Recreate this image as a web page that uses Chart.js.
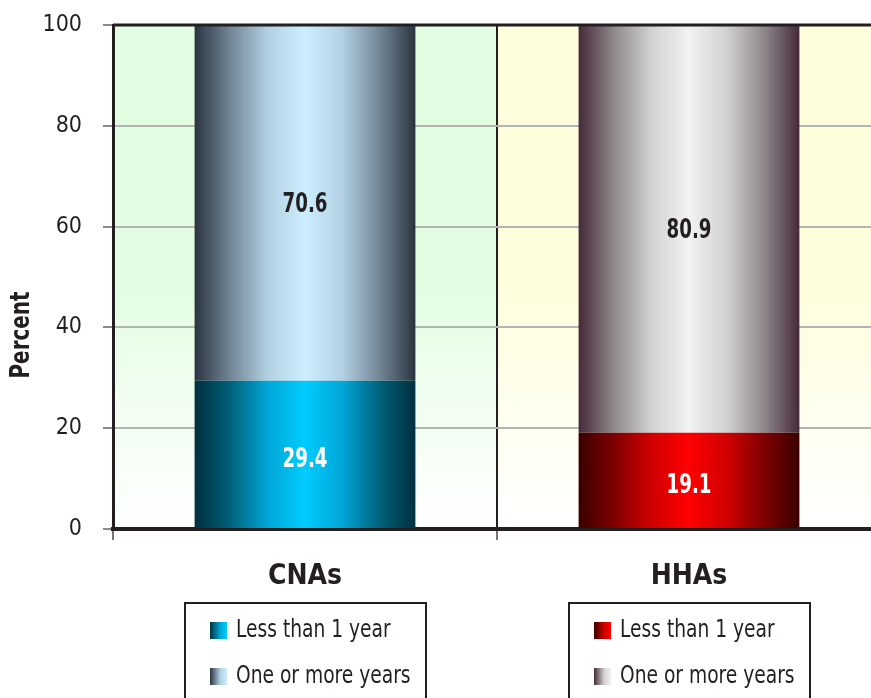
<!DOCTYPE html>
<html>
<head>
<meta charset="utf-8">
<script src="https://cdn.jsdelivr.net/npm/chart.js@4.4.1/dist/chart.umd.min.js"></script>
<style>
  html, body { margin: 0; padding: 0; background: #fff; overflow: hidden; }
</style>
</head>
<body>
<canvas id="chart" width="900" height="698"></canvas>
<script>
// data
const categories = ["CNAs", "HHAs"];
const lessThanOne = [29.4, 19.1];
const oneOrMore = [70.6, 80.9];
const seriesNames = ["Less than 1 year", "One or more years"];
const yTicks = [0, 20, 40, 60, 80, 100];

const FONT = "'Liberation Sans Narrow', 'DejaVu Sans Condensed', 'Roboto Condensed', 'Liberation Sans', sans-serif";
const INK = "#231f20";
const BAR_PCT = 0.575;

// colours per category: [edge, mid, light, centre]
const lessColors = [
  ["#00303f", "#005d75", "#00a6d6", "#00ccff"],
  ["#3a0000", "#7a0000", "#d00000", "#ff0000"]
];
const moreColors = [
  ["#2a3440", "#6d8090", "#b2d0e2", "#cdeefe"],
  ["#452a38", "#8a8387", "#d2d2d2", "#f2f2f2"]
];
const bgColors = ["#e2fde2", "#fefedc"];

function addStops(g, c) {
  g.addColorStop(0, c[0]);
  g.addColorStop(0.15, c[1]);
  g.addColorStop(0.33, c[2]);
  g.addColorStop(0.5, c[3]);
  g.addColorStop(0.67, c[2]);
  g.addColorStop(0.85, c[1]);
  g.addColorStop(1, c[0]);
}

function barGradient(colorSet) {
  return function (context) {
    const chart = context.chart;
    const xs = chart.scales.x;
    const c = colorSet[context.dataIndex] || colorSet[0];
    if (!xs || !chart.chartArea) return c[3];
    const mid = xs.getPixelForValue(context.dataIndex);
    const half = (xs.width / categories.length) * BAR_PCT / 2;
    const g = chart.ctx.createLinearGradient(mid - half, 0, mid + half, 0);
    addStops(g, c);
    return g;
  };
}

// narrow text helper (the original uses a condensed face)
function narrowText(ctx, text, x, y, sx) {
  ctx.save();
  ctx.translate(x, y);
  ctx.scale(sx, 1);
  ctx.fillText(text, 0, 0);
  ctx.restore();
}

// background halves, light tint at top fading to white
const backgroundPlugin = {
  id: "bgHalves",
  beforeDraw(chart) {
    const { ctx, chartArea: a } = chart;
    const xs = chart.scales.x;
    const step = xs.width / categories.length;
    categories.forEach((cat, i) => {
      const g = ctx.createLinearGradient(0, a.top, 0, a.bottom);
      g.addColorStop(0, bgColors[i]);
      g.addColorStop(0.5, bgColors[i]);
      g.addColorStop(1, "#ffffff");
      ctx.fillStyle = g;
      ctx.fillRect(xs.left + step * i, a.top, step, a.bottom - a.top);
    });
  }
};

// value labels, axis title, top border, and the boxed legends
const extrasPlugin = {
  id: "extras",
  afterDatasetsDraw(chart) {
    const ctx = chart.ctx;
    ctx.save();
    ctx.font = "bold 27px " + FONT;
    ctx.textAlign = "center";
    ctx.textBaseline = "middle";
    chart.data.datasets.forEach((ds, di) => {
      const meta = chart.getDatasetMeta(di);
      meta.data.forEach((el, i) => {
        ctx.fillStyle = di === 0 ? "#ffffff" : INK;
        narrowText(ctx, ds.data[i].toFixed(1), el.x, (el.y + el.base) / 2 + (di === 0 ? 6 : 2), 0.75);
      });
    });
    ctx.restore();
  },
  afterDraw(chart) {
    const { ctx, chartArea: a } = chart;
    const xs = chart.scales.x;
    ctx.save();
    // top frame line
    ctx.strokeStyle = INK;
    ctx.lineWidth = 3;
    ctx.beginPath();
    ctx.moveTo(a.left, a.top);
    ctx.lineTo(a.right, a.top);
    ctx.stroke();

    // y title
    ctx.translate(22, 335);
    ctx.rotate(-Math.PI / 2);
    ctx.font = "bold 27px " + FONT;
    ctx.fillStyle = INK;
    ctx.textAlign = "center";
    ctx.textBaseline = "middle";
    narrowText(ctx, "Percent", 0, 0, 0.82);
    ctx.restore();

    // legends under each category
    ctx.save();
    categories.forEach((cat, i) => {
      const mid = xs.getPixelForValue(i);
      const left = mid - 120;
      ctx.strokeStyle = INK;
      ctx.lineWidth = 2;
      ctx.strokeRect(left, 603, 241, 120);
      const sets = [lessColors[i], moreColors[i]];
      seriesNames.forEach((name, j) => {
        const yc = 630 + j * 46;
        const sx = mid - 95;
        const g = ctx.createLinearGradient(sx, 0, sx + 17, 0);
        g.addColorStop(0, sets[j][0]);
        g.addColorStop(0.6, sets[j][2]);
        g.addColorStop(1, sets[j][3]);
        ctx.fillStyle = g;
        ctx.fillRect(sx, yc - 8, 17, 17);
        ctx.fillStyle = INK;
        ctx.font = "25px " + FONT;
        ctx.textAlign = "left";
        ctx.textBaseline = "middle";
        narrowText(ctx, name, mid - 69, yc, 0.83);
      });
    });
    ctx.restore();
  }
};

new Chart(document.getElementById("chart"), {
  type: "bar",
  data: {
    labels: categories,
    datasets: [
      {
        label: seriesNames[0],
        data: lessThanOne,
        backgroundColor: barGradient(lessColors),
        barPercentage: BAR_PCT,
        categoryPercentage: 1
      },
      {
        label: seriesNames[1],
        data: oneOrMore,
        backgroundColor: barGradient(moreColors),
        barPercentage: BAR_PCT,
        categoryPercentage: 1
      }
    ]
  },
  options: {
    responsive: false,
    animation: false,
    layout: { padding: { left: 0, right: 19, top: 25, bottom: 0 } },
    plugins: {
      legend: { display: false },
      tooltip: { enabled: false }
    },
    scales: {
      x: {
        stacked: true,
        border: { color: INK, width: 4 },
        grid: { color: INK, lineWidth: 2, tickLength: 11, tickColor: "#777" },
        ticks: { color: INK, padding: 20, font: { family: FONT, size: 28, weight: "bold" } },
        afterFit(scale) {
          scale.height = 169;
          scale.paddingLeft = 0;
          scale.paddingRight = 0;
        }
      },
      y: {
        stacked: true,
        min: 0,
        max: 100,
        afterBuildTicks(scale) { scale.ticks = yTicks.map(v => ({ value: v })); },
        border: { color: INK, width: 3 },
        grid: {
          color: ctx => ctx.tick && ctx.tick.value === 100 ? "rgba(0,0,0,0)" : "#b4b4b4",
          lineWidth: 2,
          tickLength: 10,
          tickColor: "#8a8a8a"
        },
        ticks: { color: INK, padding: 21, font: { family: FONT, size: 23 } },
        afterFit(scale) {
          scale.width = 113;
          scale.paddingTop = 0;
          scale.paddingBottom = 0;
        }
      }
    }
  },
  plugins: [backgroundPlugin, extrasPlugin]
});
</script>
</body>
</html>
